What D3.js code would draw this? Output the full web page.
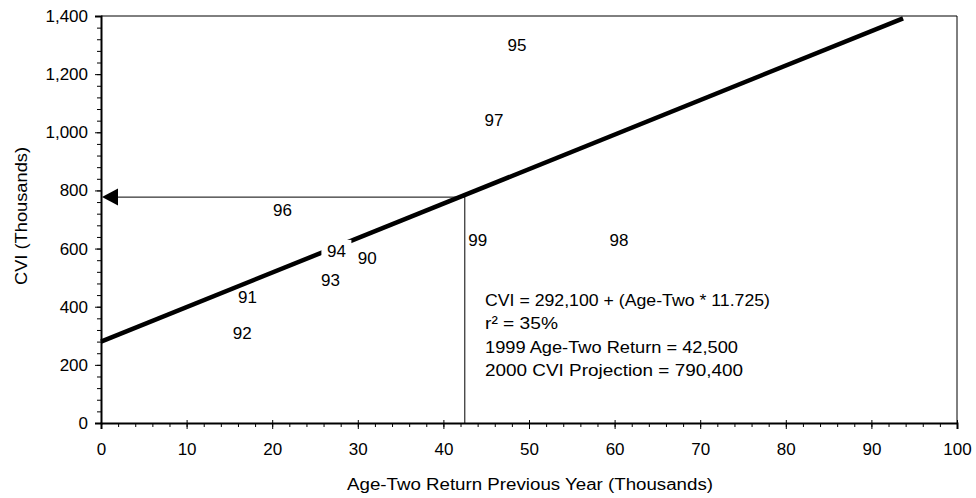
<!DOCTYPE html>
<html>
<head>
<meta charset="utf-8">
<script src="https://cdn.jsdelivr.net/npm/d3@7"></script>
<style>
  body { margin: 0; background: #fff; }
  svg text { font-family: "Liberation Sans", Arial, sans-serif; fill: #000; }
</style>
</head>
<body>
<div id="wrapper"></div>
<script>
// data
const years = ["90", "91", "92", "93", "94", "95", "96", "97", "98", "99"];
const ageTwo = [31.1, 17.1, 16.5, 26.8, 27.5, 48.6, 21.2, 45.9, 60.5, 44.0];
const cvi = [568, 434, 310, 492, 592, 1300, 733, 1042, 630, 630];
// fitted line as drawn (ends)
const fitX = [0, 93.7];
const fitY = [280, 1392];
const ret1999 = 42.5;
const projDrawn = 777;
const xTicks = [0, 10, 20, 30, 40, 50, 60, 70, 80, 90, 100];
const yTicks = [0, 200, 400, 600, 800, 1000, 1200, 1400];
const notes = [
    "CVI = 292,100 + (Age-Two * 11.725)",
    "r\u00b2 = 35%",
    "1999 Age-Two Return = 42,500",
    "2000 CVI Projection = 790,400"
];
const noteWidths = [285, 73, 253, 258];

const dimension = {
    width: 976,
    height: 498,
    margin: { left: 101, right: 19, top: 16, bottom: 75 }
};

const svg = d3.select("#wrapper").append("svg")
    .attr("width", dimension.width)
    .attr("height", dimension.height);

const x_scale = d3.scaleLinear().domain([0, 100])
    .range([dimension.margin.left, dimension.width - dimension.margin.right]);
const y_scale = d3.scaleLinear().domain([0, 1400])
    .range([dimension.height - dimension.margin.bottom, dimension.margin.top]);

// frame (top and right)
svg.append("path")
    .attr("fill", "none").attr("stroke", "#000").attr("stroke-width", 1)
    .attr("d", `M${x_scale(0)},${y_scale(1400)}H${x_scale(100)}V${y_scale(0)}`);

// minor ticks
const xMinor = d3.range(0, 100.1, 2);
const yMinor = d3.range(0, 1400.1, 40);
svg.append("g")
    .attr("transform", `translate(0,${y_scale(0)})`)
    .call(d3.axisBottom(x_scale).tickValues(xMinor).tickSize(4).tickFormat(""))
    .call(g => g.select(".domain").remove());
svg.append("g")
    .attr("transform", `translate(${x_scale(0)},0)`)
    .call(d3.axisLeft(y_scale).tickValues(yMinor).tickSize(4).tickFormat(""))
    .call(g => g.select(".domain").remove());

// major axes
const x_axis = d3.axisBottom(x_scale).tickValues(xTicks).tickSize(6).tickPadding(14)
    .tickFormat(d3.format("d"));
const y_axis = d3.axisLeft(y_scale).tickValues(yTicks).tickSize(6).tickPadding(7)
    .tickFormat(d3.format(","));

svg.append("g")
    .attr("transform", `translate(0,${y_scale(0)})`)
    .call(x_axis)
    .call(g => g.select(".domain").attr("stroke-width", 2))
    .call(g => g.selectAll(".tick line").attr("transform", "translate(0,-3)").attr("y2", 9))
    .call(g => g.selectAll("text").style("font-size", "17px"));

svg.append("g")
    .attr("transform", `translate(${x_scale(0)},0)`)
    .call(y_axis)
    .call(g => g.select(".domain").attr("stroke-width", 2))
    .call(g => g.selectAll("text").style("font-size", "17px"));

// regression line
const regLine = d3.line()
    .x(d => x_scale(d[0]))
    .y(d => y_scale(d[1]));
svg.append("path")
    .attr("fill", "none").attr("stroke", "#000").attr("stroke-width", 4.5)
    .attr("d", regLine(d3.zip(fitX, fitY)));

// projection lines
svg.append("line")
    .attr("x1", x_scale(ret1999)).attr("x2", x_scale(ret1999))
    .attr("y1", y_scale(0)).attr("y2", y_scale(projDrawn))
    .attr("stroke", "#000").attr("stroke-width", 1);
svg.append("line")
    .attr("x1", x_scale(ret1999)).attr("x2", x_scale(0) + 14)
    .attr("y1", y_scale(projDrawn)).attr("y2", y_scale(projDrawn))
    .attr("stroke", "#000").attr("stroke-width", 1);
const ay = y_scale(projDrawn);
const ax = x_scale(0) + 1;
svg.append("path")
    .attr("fill", "#000")
    .attr("d", `M${ax},${ay}L${ax + 16},${ay - 8.5}L${ax + 16},${ay + 8.5}Z`);

// year labels as markers
const labels = svg.append("g");
years.forEach((yr, i) => {
    const g = labels.append("g")
        .attr("transform", `translate(${x_scale(ageTwo[i])},${y_scale(cvi[i])})`);
    if (yr === "94") {
        g.append("rect").attr("x", -15).attr("y", -11).attr("width", 30).attr("height", 22)
            .attr("fill", "#fff");
    }
    g.append("text")
        .attr("text-anchor", "middle")
        .attr("dy", "0.35em")
        .style("font-size", "17px")
        .text(yr);
});

// notes
svg.append("g").selectAll("text")
    .data(notes)
    .join("text")
    .attr("x", 485)
    .attr("y", (d, i) => 300 + i * 23.5)
    .attr("dy", "0.35em")
    .attr("textLength", (d, i) => noteWidths[i])
    .attr("lengthAdjust", "spacingAndGlyphs")
    .style("font-size", "17px")
    .text(d => d);

// axis labels
svg.append("text")
    .attr("x", 347)
    .attr("y", 484)
    .attr("dy", "0.35em")
    .attr("textLength", 366)
    .attr("lengthAdjust", "spacingAndGlyphs")
    .style("font-size", "16px")
    .text("Age-Two Return Previous Year (Thousands)");

svg.append("text")
    .attr("text-anchor", "middle")
    .attr("transform", `translate(21,216) rotate(-90)`)
    .attr("dy", "0.35em")
    .attr("textLength", 138)
    .attr("lengthAdjust", "spacingAndGlyphs")
    .style("font-size", "16px")
    .text("CVI (Thousands)");
</script>
</body>
</html>
